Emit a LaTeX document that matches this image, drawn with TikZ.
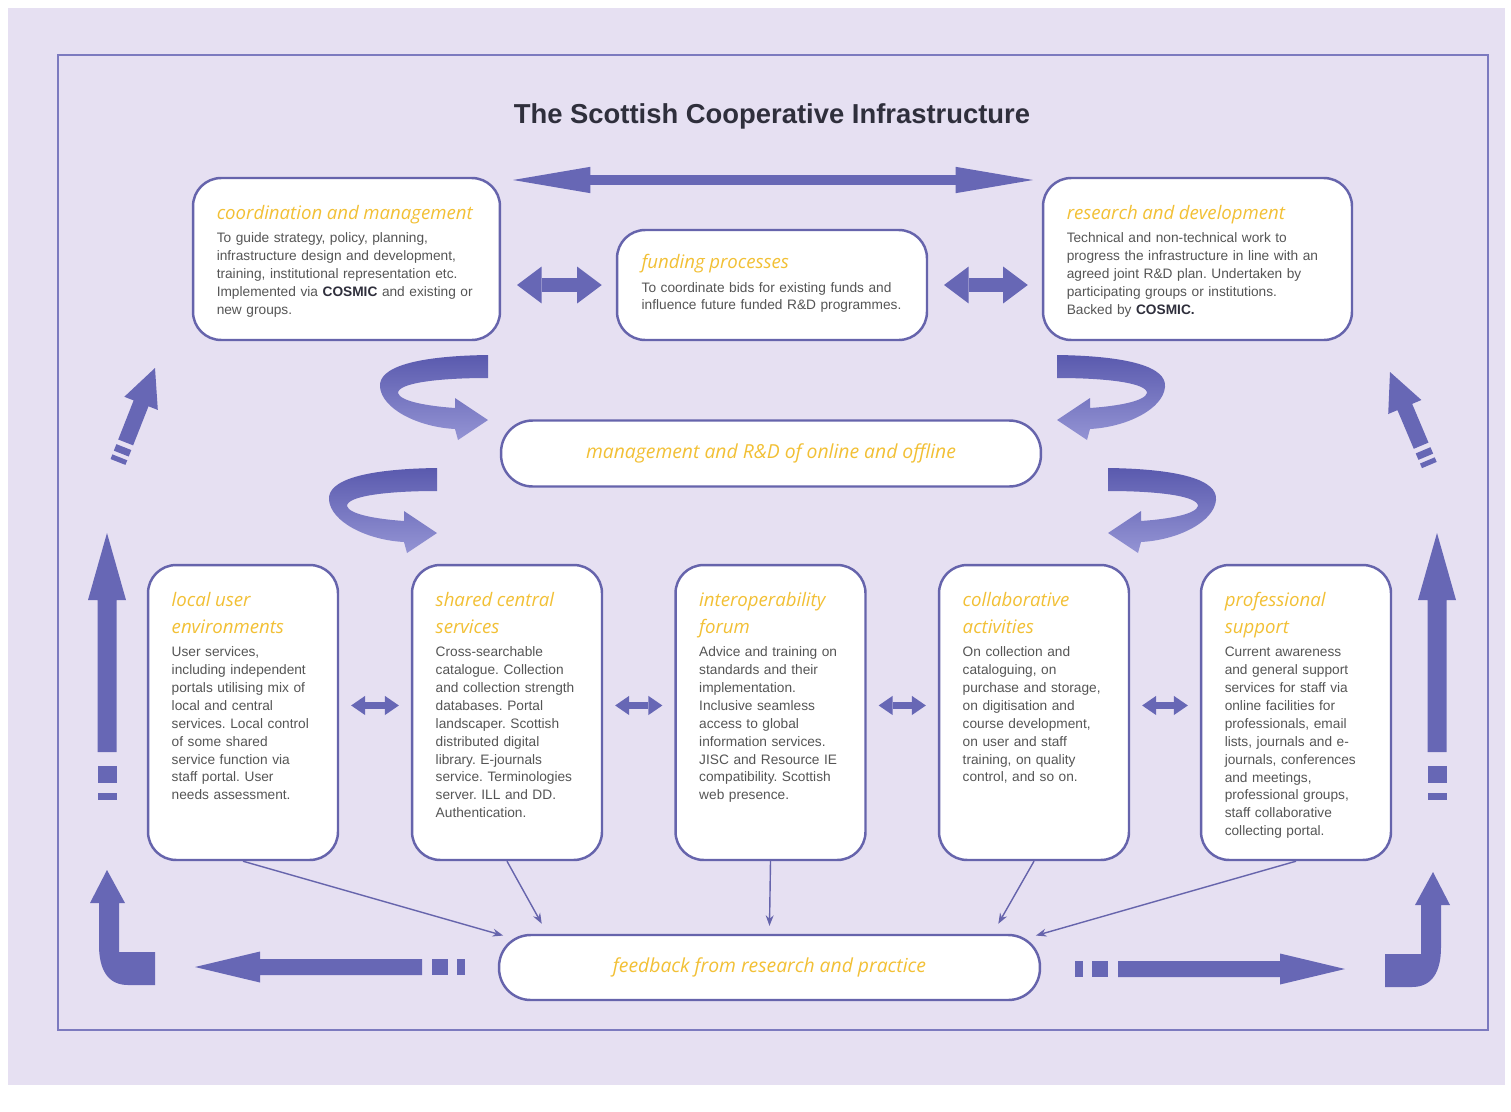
\documentclass[tikz,border=0pt]{standalone}
\usepackage{fontspec}
\setmainfont{Liberation Sans}
\newfontfamily\handfont{Open Sans}
\usetikzlibrary{arrows.meta,positioning}
\frenchspacing

\definecolor{pagebg}{HTML}{E6E0F2}
\definecolor{framecol}{HTML}{7C7ABF}
\definecolor{arrowcol}{HTML}{6767B5}
\definecolor{ribdark}{HTML}{5A5AAE}
\definecolor{riblight}{HTML}{9494D4}
\definecolor{boxline}{HTML}{6664AC}
\definecolor{headcol}{HTML}{F2C035}
\definecolor{bodycol}{HTML}{555555}
\definecolor{titlecol}{HTML}{2F2F3C}

\newcommand{\boxhead}[1]{{\handfont\itshape\fontsize{10.6}{15.3}\selectfont\textcolor{headcol}{#1}\par}\vspace{3pt}}
\newcommand{\cosmic}{\textbf{\textcolor{titlecol}{COSMIC}}}

\tikzset{
box/.style = {draw=boxline, line width=1.4pt, fill=white, rounded corners=16pt, inner sep=0pt},
topbox/.style = {box, minimum height=3.24cm},
colbox/.style = {box, minimum width=3.8cm, minimum height=5.9cm},
pill/.style = {box, rounded corners=18pt, minimum width=10.8cm, minimum height=1.32cm, text=headcol, font=\handfont\itshape\fontsize{11}{13}\selectfont},
boxtxt/.style = {align=left, inner sep=0pt, text=bodycol, font=\fontsize{7.8}{10.2}\selectfont},
titletxt/.style = {font=\bfseries\fontsize{15.6}{18}\selectfont, text=titlecol, inner sep=0pt},
bigdbl/.style = {draw=arrowcol, line width=5.5pt, {Triangle[length=44pt,width=15pt,line width=0pt]}-{Triangle[length=44pt,width=15pt,line width=0pt]}},
middbl/.style = {draw=arrowcol, line width=8pt, {Triangle[length=14pt,width=21pt,line width=0pt]}-{Triangle[length=14pt,width=21pt,line width=0pt]}, shorten <=9pt, shorten >=8pt},
smalldbl/.style = {draw=arrowcol, line width=4pt, {Triangle[length=8pt,width=11pt,line width=0pt]}-{Triangle[length=8pt,width=11pt,line width=0pt]}, shorten <=6.8pt, shorten >=6.8pt},
conn/.style = {draw=boxline, line width=0.8pt, -{Stealth[length=6pt,width=4.5pt]}},
ribbon/.pic = {
  \shade[top color=ribdark, bottom color=riblight] (0,0) .. controls (-72,1) and (-110,12) .. (-108,32)
    .. controls (-106,54) and (-70,72) .. (-33,74) -- (-30,85) -- (0,65) -- (-33,43) -- (-33,53)
    .. controls (-62,51) and (-88,46) .. (-90,38) .. controls (-90,28) and (-50,23) .. (0,23) -- cycle;
},
sidearrow/.pic = {
  \fill[arrowcol] (0,0) -- (19,67) -- (9.5,67) -- (9.5,219) -- (-9.5,219) -- (-9.5,67) -- (-19,67) -- cycle;
  \fill[arrowcol] (-9.5,233) rectangle (9.5,250);
  \fill[arrowcol] (-9.5,260) rectangle (9.5,267);
},
slantarrow/.pic = {
  \fill[arrowcol] (0,0) -- (18,38) -- (8,38) -- (8,80) -- (-8,80) -- (-8,38) -- (-18,38) -- cycle;
  \fill[arrowcol] (-8,85) rectangle (8,92);
  \fill[arrowcol] (-8,96) rectangle (8,101);
},
cornerarrow/.pic = {
  \fill[arrowcol] (0,0) -- (18,33) -- (12,33) -- (12,82) -- (48,82) -- (48,115) -- (21,115)
    .. controls (1,115) and (-8,100) .. (-8,75) -- (-8,33) -- (-17,33) -- cycle;
},
flatarrow/.pic = {
  \fill[arrowcol] (0,0) -- (65,-15.5) -- (65,-8) -- (227,-8) -- (227,8) -- (65,8) -- (65,15.5) -- cycle;
  \fill[arrowcol] (237,-8) rectangle (253,8);
  \fill[arrowcol] (262,-8) rectangle (270,8);
}
}

\begin{document}
\begin{tikzpicture}[x=0.02cm, y=-0.02cm]
\useasboundingbox (0,0) rectangle (1511,1112);
\fill[white] (0,0) rectangle (1511,1112);
\fill[pagebg] (8,8) rectangle (1505,1085);
\draw[framecol, line width=1.2pt] (58,55) rectangle (1488,1030);

% title and top arrow
\node[titletxt] (title) at (772,116) {The Scottish Cooperative Infrastructure};
\coordinate (topL) at (513,180);
\coordinate (topR) at (1033,180);
\draw[bigdbl] (topL) -- (topR);

% upper row
\node[topbox, minimum width=6.14cm] (coord) at (346.5,259) {};
\node[topbox, minimum width=6.2cm, minimum height=2.2cm] (funding) at (772,285) {};
\node[topbox, minimum width=6.18cm] (research) at (1197.5,259) {};

\node[boxtxt, text width=5.5cm, below right=16pt and 14pt of coord.north west] (coordtxt) {\boxhead{coordination and management}To guide strategy, policy, planning,\\ infrastructure design and development,\\ training, institutional representation etc.\\ Implemented via \cosmic{} and existing or\\ new groups.};
\node[boxtxt, text width=5.5cm, below right=14.5pt and 14.5pt of funding.north west] (fundingtxt) {\boxhead{funding processes}To coordinate bids for existing funds and\\ influence future funded R\&D programmes.};
\node[boxtxt, text width=5.5cm, below right=16pt and 14pt of research.north west] (researchtxt) {\boxhead{research and development}Technical and non-technical work to\\ progress the infrastructure in line with an\\ agreed joint R\&D plan. Undertaken by\\ participating groups or institutions.\\ Backed by \textbf{\textcolor{titlecol}{COSMIC.}}};

\draw[middbl] (coord.east |- funding) -- (funding);
\draw[middbl] (funding) -- (research.west |- funding);

% middle
\node[pill] (mgmt) at (771,453.5) {management and R\&D of online and offline};
\pic at (488,355) {ribbon};
\pic at (437,468) {ribbon};
\pic[xscale=-1] at (1057,355) {ribbon};
\pic[xscale=-1] at (1108,468) {ribbon};

% lower row
\foreach \name/\x in {local/243, shared/507, interop/770.5, collab/1034, prof/1296}
  \node[colbox] (\name) at (\x,712.5) {};

\node[boxtxt, text width=3.25cm, below right=16pt and 14pt of local.north west] (localtxt) {\boxhead{local user\\environments}User services,\\ including independent\\ portals utilising mix of\\ local and central\\ services. Local control\\ of some shared\\ service function via\\ staff portal. User\\ needs assessment.};
\node[boxtxt, text width=3.25cm, below right=16pt and 14pt of shared.north west] (sharedtxt) {\boxhead{shared central\\services}Cross-searchable\\ catalogue. Collection\\ and collection strength\\ databases. Portal\\ landscaper. Scottish\\ distributed digital\\ library. E-journals\\ service. Terminologies\\ server. ILL and DD.\\ Authentication.};
\node[boxtxt, text width=3.25cm, below right=16pt and 14pt of interop.north west] (interoptxt) {\boxhead{interoperability\\forum}Advice and training on\\ standards and their\\ implementation.\\ Inclusive seamless\\ access to global\\ information services.\\ JISC and Resource IE\\ compatibility. Scottish\\ web presence.};
\node[boxtxt, text width=3.25cm, below right=16pt and 14pt of collab.north west] (collabtxt) {\boxhead{collaborative\\activities}On collection and\\ cataloguing, on\\ purchase and storage,\\ on digitisation and\\ course development,\\ on user and staff\\ training, on quality\\ control, and so on.};
\node[boxtxt, text width=3.25cm, below right=16pt and 14pt of prof.north west] (proftxt) {\boxhead{professional\\support}Current awareness\\ and general support\\ services for staff via\\ online facilities for\\ professionals, email\\ lists, journals and e-\\ journals, conferences\\ and meetings,\\ professional groups,\\ staff collaborative\\ collecting portal.};

\foreach \a/\b in {local/shared, shared/interop, interop/collab, collab/prof}
  \draw[smalldbl] ([yshift=4pt]\a.east) -- ([yshift=4pt]\b.west);

% feedback
\node[pill, minimum width=10.82cm, minimum height=1.3cm] (feedback) at (769.5,967.5) {feedback from research and practice};
\draw[conn] (local.south) -- ([xshift=3pt,yshift=-1pt]feedback.north west);
\draw[conn] (shared.south) -- ([xshift=25pt,yshift=5.7pt]feedback.north west);
\draw[conn] (interop.south) -- ([yshift=4.5pt]feedback.north);
\draw[conn] (collab.south) -- ([xshift=-24.4pt,yshift=5.7pt]feedback.north east);
\draw[conn] (prof.south) -- ([xshift=-3pt,yshift=-1pt]feedback.north east);

% side arrows
\pic at (107,533) {sidearrow};
\pic at (1437,533) {sidearrow};
\pic[rotate=-21.5] at (155,368) {slantarrow};
\pic[rotate=22.9] at (1390,372) {slantarrow};
\pic at (107,870) {cornerarrow};
\pic[xscale=-1] at (1433,872) {cornerarrow};
\pic at (195,967) {flatarrow};
\pic[xscale=-1] at (1345,969) {flatarrow};
\end{tikzpicture}
\end{document}
